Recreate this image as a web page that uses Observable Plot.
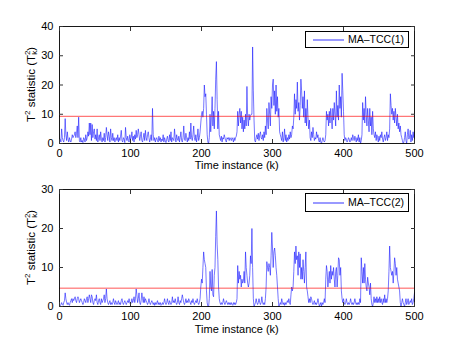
<!DOCTYPE html>
<html>
<head>
<meta charset="utf-8">
<script src="https://cdn.jsdelivr.net/npm/d3@7"></script>
<script src="https://cdn.jsdelivr.net/npm/@observablehq/plot@0.6"></script>
<style>
  body { margin: 0; background: white; }
  #fig { position: relative; width: 458px; height: 345px; background: white; font-family: "Liberation Sans", Arial, Helvetica, sans-serif; }
  #fig svg { display: block; }
  .legend { position: absolute; background: white; border: 1px solid #000; box-sizing: border-box; }
  .legend .ln { position: absolute; height: 2px; background: #0000ff; opacity: 0.4; }
  .legend .tx { position: absolute; font-size: 10.5px; line-height: 11px; color: #000; white-space: nowrap; }
</style>
</head>
<body>
<div id="fig"></div>
<script>
// ---- data ----
const xTicks = [0, 100, 200, 300, 400, 500];
const yTicks1 = [0, 10, 20, 30, 40];
const yTicks2 = [0, 10, 20, 30];
const threshold1 = 9.3;
const threshold2 = 4.7;
const seriesName1 = "MA\u2013TCC(1)";
const seriesName2 = "MA\u2013TCC(2)";
const xLabel = "Time instance (k)";

// MA-TCC(1), k = 1..500
const tcc1 = [
  1.5,0.5,5,2,1,0.5,2,8.5,3,1,
  4,1.5,0.5,2,1,0.5,1.5,3,2,2.5,
  3,4,2,3.5,6,2,9,1,0.5,2,
  0.5,1,0.3,2,1.5,0.5,3,1,2,4,
  2.5,7,3,7,1,6.5,2,4,5,1.5,
  3,1,5,0.5,2,3,1,4,1.5,0.5,
  2,1,3.5,0.5,2,5.5,3,1,4,2.5,
  0.5,5,2,1,3.5,1,2,0.5,1.5,2,
  1,3,0.5,2,1,2.5,4.5,1,0.5,2,
  1.5,0.3,5.5,2,1,2.5,1,0.5,3,1.5,
  2,4,1,2.5,0.5,3,1.5,4.5,2,3,
  5,3,1,2.5,4,1,0.5,2,3.5,1,
  4.5,2,1,3,4,2,0.5,1.5,3,1,
  12,3,1,2,0.5,1.5,2,1,0.5,2.5,
  1,2,0.5,1.5,1,3,0.5,2,1,0.3,
  1.5,2.5,1,0.5,3,1,4,0.5,2,1.5,
  1,5,2,0.5,3,1.5,1,2.5,0.5,2,
  4,1,0.5,2,6,1.5,1,3.5,2,0.5,
  2,1,4,1.5,7,2,1,3,6,2,
  1,3,0.5,2,5,1,2,4,7,10,
  11,9,12,20,16,17,10,3,0.5,0,
  2,10,4,9,16,6,11,5,12,22,
  28,15,5,11,3,2,1,2.5,0.5,2,
  1.5,3,2,1,0.5,2,1.5,2,1,2,
  1.5,1,2,1.5,0.5,2,1,2,2.5,4,
  11,6,10,12,7,11,5,9,4,8,
  5,10,6,19.5,9,6,10,8,9.5,10,
  10,33,18,8,1,0.5,2,3,1.5,3.5,
  1,3,4,2,1.5,3,1,4,2,6,
  3,12,8,5,14,10,6,16,12,20,
  22,13,18,10,20,11,16,9,12,4,
  3,2,1,4,0.5,2,5,1,3,0.5,
  2,1,3,1.5,4,2,3,6,5,9,
  17,10,15,12,21,11,14,8,13,22,
  18,12,16,9,18,7,12,6,15,9,
  5,8,2,1,4,2,5.5,3,1,2,
  1.5,4,2,3,1,0.5,2,0.5,0,1,
  2,1,0.5,1,3,11,8,10,6,11,
  7,12,9,5,12,8,14,10,6,18,
  9,13,8,20,12,16,9,24,18,11,
  3,1,2,1.5,0.5,1,2,1.5,0.5,1,
  2,1,3,2,1,2.5,1.5,0.5,2,1,
  3,0.5,2,0,1,3,14,8,12,7,
  16,10,6,12,8,4,12,6,9,3,
  11,5,3,2,4,1,3,2,0.5,2.5,
  1,3,2,4,1.5,0.5,2,3,1,2,
  4,1,3,2,5,17,13,10,12,8,
  11,7,12,9,6,10,5,7,4,6,
  3,2,1,0,0.5,2,4,1,0,3,
  5,1.5,2,4.5,0.5,3,1,4,2,4
];

// MA-TCC(2), k = 1..500
const tcc2 = [
  0.2,0.5,1,0.5,0.3,1,1.5,3.5,2,1,
  0.5,1,0.5,0.3,1,1.5,2,1,2,1.5,
  2,2.5,1.5,1,2,2.5,2,1,1.5,2,
  1.5,1,0.5,1,2,1.5,1,2,2.5,1,
  2,3,2,1,3,2.5,1,0.5,1.5,2,
  1.5,3,1,0.5,1.5,2,1,0.5,2,1,
  1.5,2,3,1,2,4.5,2,1,0.5,1,
  1.5,0.5,1,0.5,1,2,1,0.5,1.5,1,
  0.5,1,1.5,0.5,1,0.5,1.5,2,1,0.5,
  1,1.5,1,0.5,1,1.5,1,2,1,0.5,
  1,2,1,1.5,2.5,1,2,4.5,3,1,
  2,3.5,1,0.5,1.5,3.5,2,1,2.5,1,
  2,1.5,1,0.5,1,2,1,0.5,1,1.5,
  1,0.5,1,0.3,1,0.5,1,1.5,0.5,1,
  0.5,1,0.3,0.5,1,0.5,1,2,1,0.5,
  1,2,1,0.5,1.5,1,0.5,1,2.5,1,
  1.5,1,2,1,0.5,1,2.5,1,0.5,1.5,
  1,2,3,2,1,0.5,1,2,1,1.5,
  1,2,1.5,1,0.5,1.5,1,2,1,0.5,
  1,1.5,1,2,1,0.5,1,2,5,7,
  6,10,14,12,11,10,4,1,0,0,
  2,9,5,4,9.5,3,2.5,8,10,18,
  24.5,16,12,5,2,1,0.5,1,0.5,1,
  2,1,0.5,1,1.5,1,0.5,1,0.5,1,
  0.5,1,0.5,0.3,1,0.5,1,0.5,1,2,
  10.5,6,9,7,8,5,7,6,6.5,9,
  6,14,10,8,6,5,6,8,13,11,
  20,10,2,0,0.5,1,2,1,0.5,1,
  2,1,0.5,1,2.5,1,0.5,1,0.5,2,
  5,11.5,10,9,11,10,8,13,19,15,
  10,14,15,13,10,8,5,2,0,0.5,
  1,0.5,2,1,0.5,1,0.3,1,0.5,1,
  1.5,1,2,1,0.5,3,5,4,5,9,
  14,11,15.5,12,13,8,14,10,13.5,7,
  10,7,12,9,6,10,14,5,4,2.5,
  1,2,1,2.5,2,1,0.5,1,1.5,0.5,
  1,0.5,1,2,1,0,0.5,1,0,1,
  0.5,1,2,1,7,10.5,9,5,7,9,
  6,10.5,7,9,8,10,7,5,9,10,
  5,8,12.5,12,8,10,4,2,1,2,
  1,0.5,1,2,1,0.5,1,0.5,1,2,
  1,0.5,1,0.5,1,2,1,0.5,1,0.5,
  1,0.5,2,1,12.5,9,6,10,6,11,
  7,5,4,7.5,6,5,3,6,2,0.5,
  0,1,2.5,1,2,1,2.5,1,2,1,
  2.5,1,2,1,0.5,2,1,3,1,2,
  1,2,4,9,15.5,10,9,8,9,6,
  9,12.5,11,8,10,7,6,5,4,1,
  0,1,2,1,0.5,0,1,2,0.5,1,
  2,0.5,1,1.5,1,2,0.5,1,2,3.5
];

const FONT = '"Liberation Sans", Arial, Helvetica, sans-serif';

function makePanel(values, yTicks, thr, opts) {
  const data = values.map((v, i) => ({k: i + 1, v}));
  const yMax = yTicks[yTicks.length - 1];
  const svg = Plot.plot({
    width: 458,
    height: opts.height,
    marginLeft: 59,
    marginRight: 44,
    marginTop: opts.marginTop,
    marginBottom: opts.marginBottom,
    style: {fontFamily: FONT, fontSize: "11px", color: "#000", background: "white", overflow: "visible"},
    x: {domain: [0, 500], label: null},
    y: {domain: [0, yMax], label: null},
    marks: [
      Plot.line(data, {x: "k", y: "v", stroke: "#1a1aff", strokeWidth: 0.6}),
      Plot.ruleY([thr], {stroke: "#ff0000", strokeWidth: 0.9, strokeOpacity: 0.75}),
      Plot.frame({stroke: "#000", strokeWidth: 0.9}),
      Plot.axisX({ticks: xTicks, anchor: "bottom", tickSize: -4, tickPadding: 10, label: null, stroke: "#333"}),
      Plot.axisX({ticks: xTicks, anchor: "top", tickSize: -4, tickFormat: () => "", label: null, stroke: "#333"}),
      Plot.axisY({ticks: yTicks, anchor: "left", tickSize: -4, tickPadding: 10, label: null, stroke: "#333"}),
      Plot.axisY({ticks: yTicks, anchor: "right", tickSize: -4, tickFormat: () => "", label: null, stroke: "#333"})
    ]
  });
  const s = d3.select(svg);
  // x-axis label
  s.append("text")
    .attr("x", 236.8)
    .attr("y", opts.xLabelY)
    .attr("text-anchor", "middle")
    .attr("font-family", FONT)
    .attr("font-size", "11px")
    .attr("fill", "#000")
    .text(xLabel);
  // y-axis label with super/subscripts
  const cy = opts.marginTop + (opts.height - opts.marginTop - opts.marginBottom) / 2;
  const t = s.append("text")
    .attr("transform", `translate(34.5,${cy}) rotate(-90)`)
    .attr("text-anchor", "middle")
    .attr("font-family", FONT)
    .attr("font-size", "11.5px")
    .attr("fill", "#000");
  t.append("tspan").text("T");
  t.append("tspan").attr("dy", "-4.5").attr("font-size", "8px").text("2");
  t.append("tspan").attr("dy", "4.5").text(" statistic (T");
  t.append("tspan").attr("dy", "-5").attr("font-size", "8px").text("2");
  t.append("tspan").attr("dy", "7.5").attr("dx", "-4.4").attr("font-size", "8px").text("k");
  t.append("tspan").attr("dy", "-2.5").text(")");
  return svg;
}

const fig = document.getElementById("fig");
fig.appendChild(makePanel(tcc1, yTicks1, threshold1, {height: 172, marginTop: 26, marginBottom: 29, xLabelY: 169}));
fig.appendChild(makePanel(tcc2, yTicks2, threshold2, {height: 173, marginTop: 17, marginBottom: 39, xLabelY: 161}));

function addLegend(name, top, height) {
  const box = document.createElement("div");
  box.className = "legend";
  box.style.left = "305px";
  box.style.top = top + "px";
  box.style.width = "104px";
  box.style.height = height + "px";
  const ln = document.createElement("div");
  ln.className = "ln";
  ln.style.left = "7px";
  ln.style.width = "31px";
  ln.style.top = Math.round(height / 2 - 2) + "px";
  const tx = document.createElement("div");
  tx.className = "tx";
  tx.style.left = "42px";
  tx.style.top = Math.round(height / 2 - 6.5) + "px";
  tx.textContent = name;
  box.appendChild(ln);
  box.appendChild(tx);
  fig.appendChild(box);
}
addLegend(seriesName1, 31, 17);
addLegend(seriesName2, 193, 19);
</script>
</body>
</html>
